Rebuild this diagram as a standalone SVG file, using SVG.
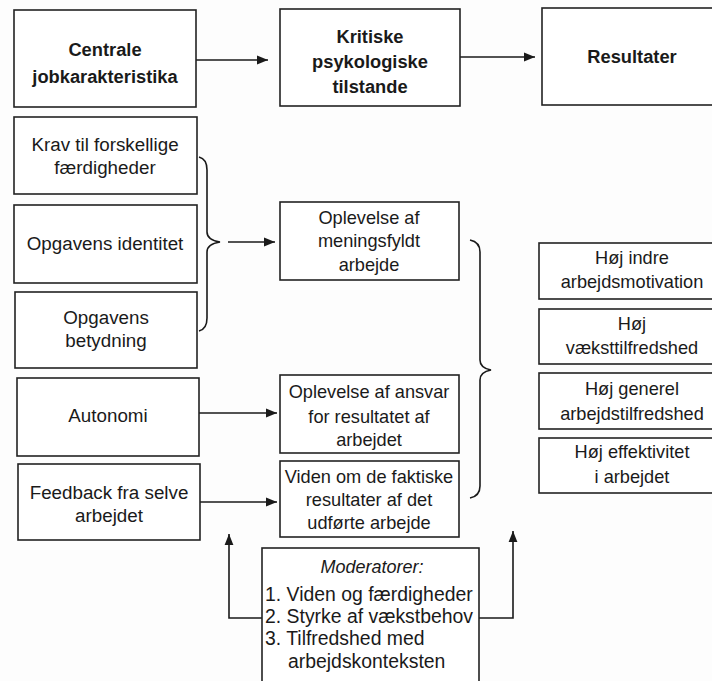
<svg xmlns="http://www.w3.org/2000/svg" width="712" height="681" viewBox="0 0 712 681">
<defs>
<marker id="ah" viewBox="0 0 10 10" refX="10" refY="5" markerWidth="11" markerHeight="11" markerUnits="userSpaceOnUse" orient="auto">
<path d="M0,1 L10,5 L0,9 Z" fill="#1a1a1a"/>
</marker>
<style>
.box{fill:#fff;stroke:#222;stroke-width:1.6}
.t{font-family:"Liberation Sans",Arial,sans-serif;font-size:18.2px;fill:#1a1a1a;text-anchor:middle}
.b{font-weight:bold;font-size:18.3px}
.lf{font-size:18.8px}
.r{font-size:18.2px}
.m{font-size:19.4px;text-anchor:start}
.i{font-style:italic;font-size:18px}
.c{fill:none;stroke:#1a1a1a;stroke-width:1.6}
</style>
</defs>
<rect width="712" height="681" fill="#fdfdfd"/>

<g id="connectors">
<line class="c" x1="196" y1="60" x2="268" y2="60" marker-end="url(#ah)"/>
<line class="c" x1="460" y1="57" x2="535" y2="57" marker-end="url(#ah)"/>
<path class="c" d="M199,157 Q207,159 207,170 L207,232 Q207,240 220,242 Q207,244 207,252 L207,318 Q207,329 199,331"/>
<line class="c" x1="228" y1="242" x2="275" y2="242" marker-end="url(#ah)"/>
<line class="c" x1="199" y1="413" x2="277" y2="413" marker-end="url(#ah)"/>
<line class="c" x1="200" y1="502" x2="277" y2="502" marker-end="url(#ah)"/>
<path class="c" d="M470,240 Q480,242 480,252 L480,360 Q480,368 491,370 Q480,372 480,380 L480,486 Q480,496 470,498"/>
<polyline class="c" points="262,618 229,618 229,534" marker-end="url(#ah)"/>
<polyline class="c" points="479,618 513,618 513,531" marker-end="url(#ah)"/>
</g>

<g id="n-centrale">
<rect class="box" x="14" y="10" width="182" height="97"/>
<text class="t b" x="105" y="56">Centrale</text>
<text class="t b" x="105" y="83">jobkarakteristika</text>
</g>
<g id="n-kritiske">
<rect class="box" x="280" y="9" width="180" height="97"/>
<text class="t b" x="370" y="43">Kritiske</text>
<text class="t b" x="370" y="68">psykologiske</text>
<text class="t b" x="370" y="93">tilstande</text>
</g>
<g id="n-resultater">
<rect class="box" x="542" y="8" width="180" height="97"/>
<text class="t b" x="632" y="63">Resultater</text>
</g>

<g id="n-krav">
<rect class="box" x="14" y="117" width="183" height="77"/>
<text class="t lf" x="105" y="151">Krav til forskellige</text>
<text class="t lf" x="105" y="174">færdigheder</text>
</g>
<g id="n-identitet">
<rect class="box" x="14" y="205" width="183" height="78"/>
<text class="t lf" x="105" y="250">Opgavens identitet</text>
</g>
<g id="n-betydning">
<rect class="box" x="15" y="292" width="182" height="76"/>
<text class="t lf" x="106" y="324">Opgavens</text>
<text class="t lf" x="106" y="347">betydning</text>
</g>
<g id="n-autonomi">
<rect class="box" x="17" y="378" width="182" height="78"/>
<text class="t lf" x="108" y="422">Autonomi</text>
</g>
<g id="n-feedback">
<rect class="box" x="18" y="464" width="182" height="76"/>
<text class="t lf" x="109" y="499">Feedback fra selve</text>
<text class="t lf" x="109" y="522">arbejdet</text>
</g>

<g id="n-meningsfyldt">
<rect class="box" x="280" y="202" width="179" height="78"/>
<text class="t" x="369" y="224">Oplevelse af</text>
<text class="t" x="369" y="247">meningsfyldt</text>
<text class="t" x="369" y="271">arbejde</text>
</g>
<g id="n-ansvar">
<rect class="box" x="280" y="375" width="179" height="78"/>
<text class="t" x="369" y="398">Oplevelse af ansvar</text>
<text class="t" x="369" y="423">for resultatet af</text>
<text class="t" x="369" y="446">arbejdet</text>
</g>
<g id="n-viden">
<rect class="box" x="280" y="461" width="179" height="76"/>
<text class="t" x="369" y="483">Viden om de faktiske</text>
<text class="t" x="369" y="506">resultater af det</text>
<text class="t" x="369" y="529">udførte arbejde</text>
</g>

<g id="n-moderatorer">
<rect class="box" x="262" y="548" width="217" height="140"/>
<text class="t i" x="372" y="573">Moderatorer:</text>
<text class="t m" x="265" y="601">1. Viden og færdigheder</text>
<text class="t m" x="265" y="623">2. Styrke af vækstbehov</text>
<text class="t m" x="265" y="645">3. Tilfredshed med</text>
<text class="t m" x="288" y="668">arbejdskonteksten</text>
</g>

<g id="n-motivation">
<rect class="box" x="539" y="243" width="180" height="56"/>
<text class="t r" x="632" y="264">Høj indre</text>
<text class="t r" x="632" y="288">arbejdsmotivation</text>
</g>
<g id="n-vaekst">
<rect class="box" x="539" y="309" width="180" height="55"/>
<text class="t r" x="632" y="330">Høj</text>
<text class="t r" x="632" y="354">væksttilfredshed</text>
</g>
<g id="n-generel">
<rect class="box" x="539" y="373" width="180" height="56"/>
<text class="t r" x="632" y="395">Høj generel</text>
<text class="t r" x="632" y="420">arbejdstilfredshed</text>
</g>
<g id="n-effektivitet">
<rect class="box" x="539" y="438" width="180" height="55"/>
<text class="t r" x="632" y="458">Høj effektivitet</text>
<text class="t r" x="632" y="483">i arbejdet</text>
</g>
</svg>
